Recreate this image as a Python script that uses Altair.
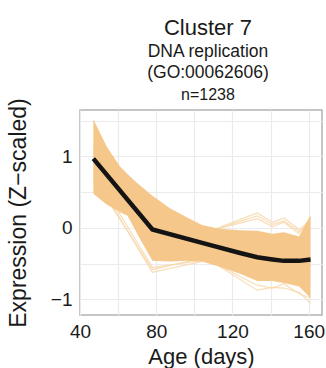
import altair as alt
import pandas as pd

# ---- data ----
# dense band of gene profiles (solid envelope)
x_env = [47, 54, 61, 65, 70, 78, 87, 96, 104, 113, 124, 133, 141, 147, 155, 161]
bulk_hi = [1.52, 1.14, 0.86, 0.75, 0.63, 0.45, 0.28, 0.15, 0.04, -0.01, -0.03, -0.04, -0.08, -0.06, -0.12, 0.18]
bulk_lo = [0.48, 0.33, 0.22, 0.17, -0.08, -0.46, -0.47, -0.46, -0.47, -0.54, -0.64, -0.74, -0.74, -0.77, -0.82, -0.98]

# a few visible outlier profiles at the band edges
t_pts = [47, 78, 133, 141, 147, 155, 161]
out_up1 = [1.05, -0.35, 0.21, 0.08, 0.14, -0.02, 0.10]
out_up2 = [0.95, -0.30, 0.17, 0.05, 0.10, -0.05, 0.05]
out_up3 = [1.10, -0.25, 0.13, 0.02, 0.08, -0.08, 0.15]
out_lo1 = [0.75, -0.62, -0.30, -0.35, -0.40, -0.45, -0.50]
out_lo2 = [0.70, -0.58, -0.25, -0.30, -0.35, -0.50, -0.55]
out_lo3 = [0.80, -0.55, -0.35, -0.40, -0.45, -0.55, -0.60]
out_lo4 = [1.00, 0.05, -0.87, -0.83, -0.84, -0.90, -1.05]
out_lo5 = [0.90, -0.05, -0.80, -0.84, -0.78, -0.92, -0.98]

# cluster mean profile
x_mean = [47, 78, 107, 124, 133, 141, 147, 155, 161]
y_mean = [0.97, -0.02, -0.23, -0.35, -0.41, -0.44, -0.46, -0.46, -0.44]

# axes
x_grid = [40, 60, 80, 100, 120, 140, 160]
x_labels = [40, 80, 120, 160]
y_grid = [-1, -0.5, 0, 0.5, 1, 1.5]
y_labels = [-1, 0, 1]

title_lines = ["Cluster 7", "DNA replication", "(GO:00062606)", "n=1238"]

# ---- tables ----
band = pd.DataFrame({"age": x_env, "hi": bulk_hi, "lo": bulk_lo})
outs = {"u1": out_up1, "u2": out_up2, "u3": out_up3, "l1": out_lo1,
        "l2": out_lo2, "l3": out_lo3, "l4": out_lo4, "l5": out_lo5}
rows = []
for g, vals in outs.items():
    for a, v in zip(t_pts, vals):
        rows.append({"gene": g, "age": a, "z": v})
outdf = pd.DataFrame(rows)
meandf = pd.DataFrame({"age": x_mean, "z": y_mean})

FONT = "Liberation Sans"
xs = alt.Scale(domain=[40, 167], nice=False, zero=False)
ys = alt.Scale(domain=[-1.217, 1.65], nice=False, zero=False)

x_axis = alt.Axis(
    values=x_grid,
    labelExpr="indexof(%s, datum.value) >= 0 ? datum.label : ''" % str(x_labels),
    ticks=False, domain=False, grid=True, gridColor="#ebebeb", gridWidth=1.2,
    labelFlush=False, labelOverlap=False,
    labelFontSize=19, labelPadding=7, labelColor="#1a1a1a", labelFont=FONT,
    title="Age (days)", titleFontSize=22, titleFontWeight="normal",
    titleColor="#1a1a1a", titleFont=FONT, titlePadding=5,
)
y_axis = alt.Axis(
    values=y_grid,
    labelExpr="indexof(%s, datum.value) >= 0 ? format(datum.value, 'd') : ''" % str(y_labels),
    ticks=False, domain=False, grid=True, gridColor="#ebebeb", gridWidth=1.2,
    labelFlush=False, labelOverlap=False,
    labelFontSize=19, labelPadding=8, labelColor="#1a1a1a", labelFont=FONT,
    title="Expression (Z\u2212scaled)", titleFontSize=23, titleFontWeight="normal",
    titleColor="#1a1a1a", titleFont=FONT, titlePadding=20,
)

lines = alt.Chart(outdf).mark_line(color="#F8D9AE", strokeWidth=1.2, opacity=0.9).encode(
    x=alt.X("age:Q", scale=xs, axis=x_axis),
    y=alt.Y("z:Q", scale=ys, axis=y_axis),
    detail="gene:N",
)

area = alt.Chart(band).mark_area(color="#F5C78A", opacity=1).encode(
    x=alt.X("age:Q", scale=xs, axis=x_axis),
    y=alt.Y("hi:Q", scale=ys, axis=y_axis),
    y2="lo:Q",
)

mean = alt.Chart(meandf).mark_line(color="#141414", strokeWidth=4.5).encode(
    x=alt.X("age:Q", scale=xs, axis=x_axis),
    y=alt.Y("z:Q", scale=ys, axis=y_axis),
)

sizes = [22, 17.5, 17.5, 16]
ypos = [-75, -53.3, -32, -10]
texts = []
for line, fs, yp in zip(title_lines, sizes, ypos):
    texts.append(
        alt.Chart(pd.DataFrame({"t": [line]})).mark_text(
            fontSize=fs, font=FONT, align="center", baseline="alphabetic", color="#1a1a1a"
        ).encode(x=alt.value(128), y=alt.value(yp), text="t:N")
    )

chart = alt.layer(lines, area, mean, *texts).properties(
    width=242, height=205,
    autosize=alt.AutoSizeParams(type="none"),
    padding={"left": 80, "top": 110, "right": 4, "bottom": 53},
    background="white",
).configure_view(stroke="#b3b3b3", strokeWidth=1.5)

chart.save("out.html", embed_options={"renderer": "svg", "actions": False})
